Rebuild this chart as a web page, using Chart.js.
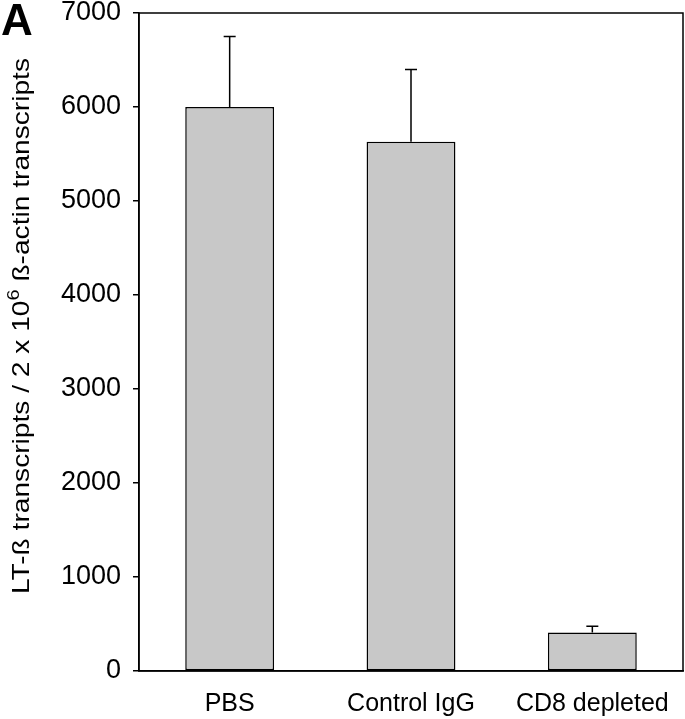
<!DOCTYPE html>
<html>
<head>
<meta charset="utf-8">
<script src="https://cdn.jsdelivr.net/npm/chart.js@4"></script>
<style>
  html, body { margin: 0; padding: 0; background: #fff; }
  #wrap { width: 685px; height: 719px; position: relative; }
</style>
</head>
<body>
<div id="wrap"><canvas id="ltChart"></canvas></div>
<script>
// values
var groups = ['PBS', 'Control IgG', 'CD8 depleted'];
var transcripts = [6000, 5630, 410];
var errUp = [750, 770, 65];
var yTicks = [0, 1000, 2000, 3000, 4000, 5000, 6000, 7000];

var FONT = "'Liberation Sans', Arial, Helvetica, sans-serif";

// error bars (upper only) + box + panel letter + y title with superscript
var extras = {
  id: 'extras',
  afterDatasetsDraw: function(chart) {
    var ctx = chart.ctx;
    var y = chart.scales.y;
    var meta = chart.getDatasetMeta(0);
    ctx.save();
    ctx.strokeStyle = '#000';
    ctx.lineWidth = 1.5;
    meta.data.forEach(function(bar, i) {
      var top = y.getPixelForValue(transcripts[i] + errUp[i]);
      ctx.beginPath();
      ctx.moveTo(bar.x, bar.y);
      ctx.lineTo(bar.x, top);
      ctx.moveTo(bar.x - 6, top);
      ctx.lineTo(bar.x + 6, top);
      ctx.stroke();
    });
    var a = chart.chartArea;
    ctx.strokeRect(a.left, a.top, a.right - a.left, a.bottom - a.top);
    ctx.restore();
  },
  afterDraw: function(chart) {
    var ctx = chart.ctx;
    ctx.save();
    ctx.fillStyle = '#000';
    ctx.font = 'bold 44px ' + FONT;
    ctx.textBaseline = 'alphabetic';
    ctx.fillText('A', 1, 35);

    // rotated axis title, stretched to the length it has in the figure
    var p1 = 'LT-ß transcripts / 2 x 10', sup = '6', p2 = ' ß-actin transcripts';
    var big = '24px ' + FONT, small = '17px ' + FONT;
    ctx.font = big; var w1 = ctx.measureText(p1).width, w3 = ctx.measureText(p2).width;
    ctx.font = small; var w2 = ctx.measureText(sup).width;
    var total = w1 + w2 + w3;
    ctx.translate(29, 326);
    ctx.rotate(-Math.PI / 2);
    ctx.scale(536 / total, 1);
    var x = -total / 2;
    ctx.font = big; ctx.fillText(p1, x, 0); x += w1;
    ctx.font = small; ctx.fillText(sup, x, -10); x += w2;
    ctx.font = big; ctx.fillText(p2, x, 0);
    ctx.restore();
  }
};

var ctx = document.getElementById('ltChart');
new Chart(ctx, {
  type: 'bar',
  data: {
    labels: groups,
    datasets: [{
      data: transcripts,
      backgroundColor: '#c8c8c8',
      borderColor: '#000',
      borderWidth: 1.5,
      borderSkipped: false,
      barPercentage: 0.49,
      categoryPercentage: 1.0
    }]
  },
  options: {
    responsive: true,
    maintainAspectRatio: false,
    animation: false,
    layout: { padding: { top: 13, right: 2, left: 0, bottom: 0 } },
    plugins: { legend: { display: false }, tooltip: { enabled: false } },
    scales: {
      x: {
        grid: { display: false },
        border: { display: true, color: '#000', width: 1.5 },
        ticks: { color: '#000', padding: 10, font: { family: FONT, size: 25 }, maxRotation: 0 },
        afterFit: function(s) { s.height = 48; }
      },
      y: {
        min: 0,
        max: 7000,
        afterBuildTicks: function(s) { s.ticks = yTicks.map(function(v) { return { value: v }; }); },
        grid: { drawOnChartArea: false, drawTicks: true, tickLength: 6, color: '#000', lineWidth: 1.5 },
        border: { display: true, color: '#000', width: 1.5 },
        ticks: {
          color: '#000', padding: 12,
          font: { family: FONT, size: 27, lineHeight: 1.0 },
          callback: function(v) { return String(v); }
        },
        afterFit: function(s) { s.width = 139; s.paddingTop = 0; s.paddingBottom = 0; }
      }
    }
  },
  plugins: [extras]
});
</script>
</body>
</html>
